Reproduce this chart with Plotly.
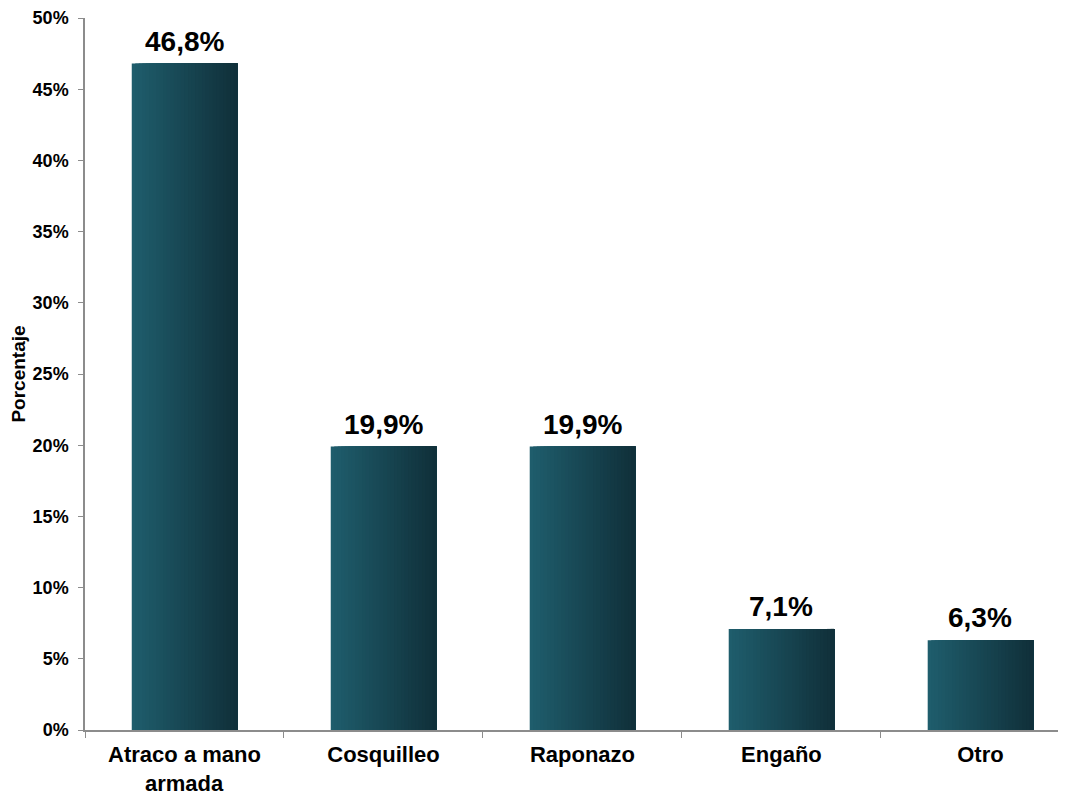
import plotly.graph_objects as go

categories = ["Atraco a mano armada", "Cosquilleo", "Raponazo", "Engaño", "Otro"]
category_lines = [["Atraco a mano", "armada"], ["Cosquilleo"], ["Raponazo"], ["Engaño"], ["Otro"]]
values = [46.8, 19.9, 19.9, 7.1, 6.3]
labels = ["46,8%", "19,9%", "19,9%", "7,1%", "6,3%"]
y_ticks = [0, 5, 10, 15, 20, 25, 30, 35, 40, 45, 50]
y_ticktext = ["0%", "5%", "10%", "15%", "20%", "25%", "30%", "35%", "40%", "45%", "50%"]

FONT = "Liberation Sans, Arial, sans-serif"
left_rgb = (31, 93, 108)
right_rgb = (16, 48, 58)
N = 30
W = 0.53

fig = go.Figure()
for i in range(N):
    t = i / (N - 1)
    c = tuple(round(left_rgb[k] + (right_rgb[k] - left_rgb[k]) * t) for k in range(3))
    fig.add_trace(go.Bar(
        x=categories, y=values,
        width=W - i * W / N, offset=-W / 2 + i * W / N,
        marker=dict(color="rgb(%d,%d,%d)" % c, line=dict(width=0)),
        showlegend=False, hoverinfo="skip",
    ))

for cat, v, lab in zip(categories, values, labels):
    fig.add_annotation(
        x=cat, y=v, text=lab, showarrow=False,
        xanchor="center", yanchor="bottom", yshift=5,
        font=dict(family=FONT, size=28, color="black", weight="bold"),
    )

# extra lines of multi-line category labels, set tighter than plotly's default line height
for cat, lines in zip(categories, category_lines):
    for j, line in enumerate(lines[1:], start=1):
        fig.add_annotation(
            x=cat, y=0, text=line, showarrow=False,
            xanchor="center", yanchor="top", yshift=-15 - 24 * j,
            font=dict(family=FONT, size=22, color="black", weight="bold"),
        )

fig.update_layout(
    width=1058, height=783,
    margin=dict(l=77, r=0, t=10, b=61),
    paper_bgcolor="white", plot_bgcolor="white",
    barmode="overlay",
    font=dict(family=FONT, color="black"),
    xaxis=dict(
        type="category", range=[-0.5, 4.43], automargin=False,
        tickmode="array", tickvals=categories, ticktext=[l[0] for l in category_lines],
        showline=True, linecolor="#8c8c8c", linewidth=1.5,
        ticks="outside", tickson="boundaries", ticklen=6, tickcolor="#8c8c8c",
        ticklabelstandoff=4,
        tickfont=dict(size=22, weight="bold"), showgrid=False, zeroline=False,
    ),
    yaxis=dict(
        range=[0, 50], tickmode="array", tickvals=y_ticks, ticktext=y_ticktext,
        automargin=False,
        showline=True, linecolor="#8c8c8c", linewidth=1.5,
        ticks="outside", ticklen=5, tickcolor="#8c8c8c",
        ticklabelstandoff=6,
        tickfont=dict(size=18, weight="bold"), showgrid=False, zeroline=False,
        title=dict(text="Porcentaje", font=dict(size=19, weight="bold"), standoff=4),
    ),
)

fig.write_html("out.html")
